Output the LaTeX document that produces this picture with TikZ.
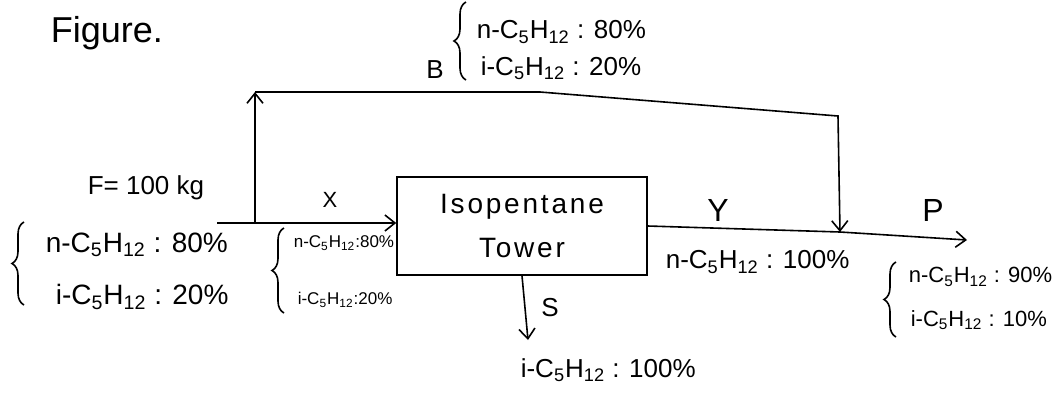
\documentclass[tikz,border=0pt]{standalone}
\usepackage{fontspec}
\setmainfont{Liberation Sans}
\usetikzlibrary{decorations.pathreplacing,arrows.meta}
\newcommand{\cf}[2]{#1-C\textsubscript{5}H\textsubscript{12} : #2\%}
\newcommand{\cfs}[2]{#1-C\textsubscript{5}H\textsubscript{12}:#2\%}
\newcommand{\fs}[1]{\fontsize{#1}{#1}\selectfont}
\begin{document}
\begin{tikzpicture}[x=0.5pt,y=-0.5pt, line width=0.8pt,
  flow/.style={-{Straight Barb[length=5pt,width=8pt]}},
  lbl/.style={inner sep=0pt},
  comp/.style={inner sep=0pt, anchor=west},
  brc/.style={decorate, decoration={brace, amplitude=6pt}}]
\useasboundingbox (0,0) rectangle (1062,392);

% title
\node[lbl, anchor=west, font=\fs{18}] (fig) at (50,33) {Figure.};

% tower
\node[draw, minimum width=125pt, minimum height=49pt, inner sep=0pt,
      align=center, font=\fontsize{14}{22}\selectfont\addfontfeature{LetterSpace=10}] (tower) at (522,226)
      {Isopentane\\Tower};

% coordinates
\coordinate (fin) at (217,223);
\coordinate (sp) at (255,223);
\coordinate (tl) at (255,92);
\coordinate (tm) at (540,92);
\coordinate (tr) at (838,116);
\coordinate (jn) at (840,232);
\coordinate (pout) at (967,240);
\coordinate (sout) at (528,340);

% streams
\draw[flow] (fin) -- (fin -| tower.west);
\draw[flow] (sp) -- (tl);
\draw[flow] (tl) -- (tm) -- (tr) -- (jn);
\draw (tower.east) -- (jn);
\draw[flow] (jn) -- (pout);
\draw[flow] (tower.south) -- (sout);

% stream labels
\node[lbl, anchor=west, font=\fs{13}] (F) at (87,188) {F= 100 kg};
\node[lbl, font=\fs{11}] (X) at (330,200) {X};
\node[lbl, font=\fs{16}] (Y) at (718,210) {Y};
\node[lbl, font=\fs{16}] (P) at (933,210) {P};
\node[lbl, font=\fs{13}] (B) at (435,70) {B};
\node[lbl, font=\fs{13}] (S) at (550,308) {S};

% compositions: feed
\draw[brc] (24,305) -- (24,222);
\node[comp, font=\fs{14}] (fn) at (45,245) {\cf{n}{80}};
\node[comp, font=\fs{14}] (fi) at (55,297) {\cf{i}{20}};

% compositions: X
\draw[brc] (284,313) -- (284,228);
\node[comp, font=\fs{8.5}] (xn) at (293,243) {\cfs{n}{80}};
\node[comp, font=\fs{8.5}] (xi) at (297,300) {\cfs{i}{20}};

% compositions: B
\draw[brc] (466,80) -- (466,2);
\node[comp, font=\fs{13}] (bn) at (476,32) {\cf{n}{80}};
\node[comp, font=\fs{13}] (bi) at (480,68) {\cf{i}{20}};

% compositions: Y
\node[comp, font=\fs{13}] (yn) at (665,262) {\cf{n}{100}};

% compositions: P
\draw[brc] (896,337) -- (896,262);
\node[comp, font=\fs{11}] (pn) at (908,277) {\cf{n}{90}};
\node[comp, font=\fs{11}] (pi) at (910,320) {\cf{i}{10}};

% compositions: S
\node[comp, font=\fs{13}] (si) at (520,370) {\cf{i}{100}};
\end{tikzpicture}
\end{document}
